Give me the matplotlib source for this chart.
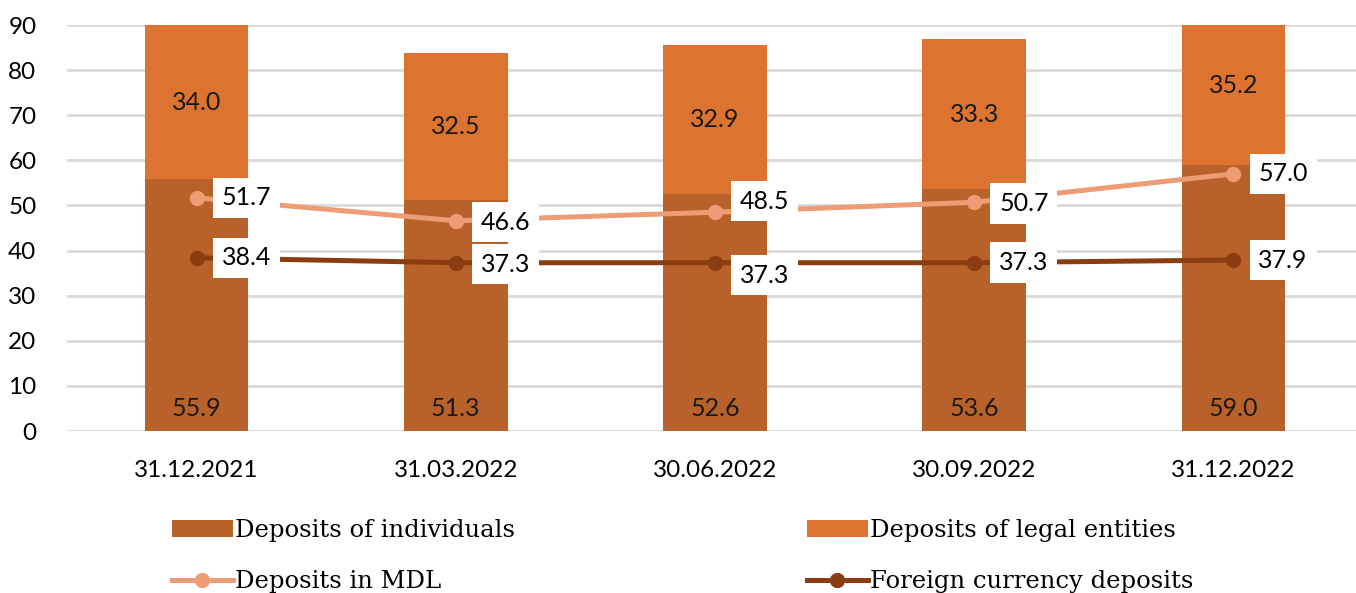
import matplotlib.pyplot as plt
import numpy as np

# --- data ---
dates = ['31.12.2021', '31.03.2022', '30.06.2022', '30.09.2022', '31.12.2022']
individuals = [55.9, 51.3, 52.6, 53.6, 59.0]
legal_entities = [34.0, 32.5, 32.9, 33.3, 35.2]
deposits_mdl = [51.7, 46.6, 48.5, 50.7, 57.0]
deposits_fx = [38.4, 37.3, 37.3, 37.3, 37.9]

# colours
c_ind = '#B8612A'
c_leg = '#DC7430'
c_mdl = '#EE9C75'
c_fx = '#8A3D10'

num_font = 'Lato'
leg_font = 'DejaVu Serif'

fig = plt.figure(figsize=(13.56, 5.93), dpi=100)
ax = fig.add_axes([67 / 1356, 1 - 431 / 593, 1296 / 1356, 406 / 593])

x = np.arange(len(dates))
w = 0.4
b1 = ax.bar(x, individuals, w, color=c_ind, label='Deposits of individuals', zorder=2)
b2 = ax.bar(x, legal_entities, w, bottom=individuals, color=c_leg,
            label='Deposits of legal entities', zorder=2)

l1, = ax.plot(x, deposits_mdl, color=c_mdl, lw=3.6, marker='o', ms=10,
              label='Deposits in MDL', zorder=3)
l2, = ax.plot(x, deposits_fx, color=c_fx, lw=3.6, marker='o', ms=10,
              label='Foreign currency deposits', zorder=3)

# bar labels
for i in range(len(x)):
    ax.text(x[i], 5, f'{individuals[i]:.1f}', ha='center', va='center',
            fontsize=18, family=num_font, color='#1a1a1a', zorder=4)
    ax.text(x[i], individuals[i] + legal_entities[i] / 2, f'{legal_entities[i]:.1f}',
            ha='center', va='center', fontsize=18, family=num_font,
            color='#1a1a1a', zorder=4)

# line labels (vertical nudges in points, like Excel's placement)
mdl_dy = [0, -1, 8, -1, 0]
fx_dy = [0, -1, -9, 0, 0]
box = dict(boxstyle='square,pad=0.35', fc='white', ec='none')
for i in range(len(x)):
    ax.annotate(f'{deposits_mdl[i]:.1f}', (x[i], deposits_mdl[i]),
                xytext=(18, mdl_dy[i]), textcoords='offset points',
                ha='left', va='center', fontsize=18, family=num_font,
                bbox=box, zorder=5)
    ax.annotate(f'{deposits_fx[i]:.1f}', (x[i], deposits_fx[i]),
                xytext=(18, fx_dy[i]), textcoords='offset points',
                ha='left', va='center', fontsize=18, family=num_font,
                bbox=box, zorder=5)

ax.set_ylim(0, 90)
ax.set_xlim(-0.5, 4.5)
ax.set_yticks(range(0, 91, 10))
ax.set_xticks(x)
ax.set_xticklabels(dates)
for lab in ax.get_xticklabels() + ax.get_yticklabels():
    lab.set_family(num_font)
    lab.set_fontsize(17.5)
ax.tick_params(length=0)
ax.tick_params(axis='y', pad=22)
ax.tick_params(axis='x', pad=21)
ax.grid(axis='y', color='#D9D9D9', lw=2, zorder=0)
ax.set_axisbelow(True)
for s in ax.spines.values():
    s.set_visible(False)

# matplotlib fills legend columns first, so order handles for row-wise layout
leg = fig.legend(handles=[b1, l1, b2, l2], loc='lower left',
                 bbox_to_anchor=(150 / 1356, -22 / 593), ncol=2,
                 frameon=False, prop={'family': leg_font, 'size': 17.5},
                 columnspacing=12.0, handlelength=2.5, handletextpad=0.1,
                 labelspacing=1.15)

fig.savefig('out.png', dpi=100)
